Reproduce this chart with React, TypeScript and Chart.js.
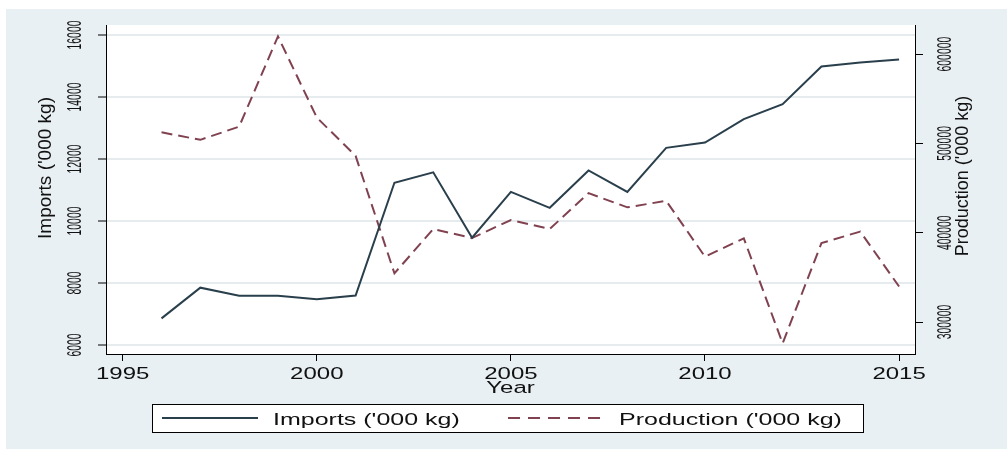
import { useEffect, useRef } from "react";
import { Chart, registerables } from "chart.js";

Chart.register(...registerables);

// Annual series, 1996–2015
const years = [
  1996, 1997, 1998, 1999, 2000, 2001, 2002, 2003, 2004, 2005,
  2006, 2007, 2008, 2009, 2010, 2011, 2012, 2013, 2014, 2015,
];
const imports = [
  6860, 7850, 7590, 7590, 7475, 7595, 11235, 11570, 9460, 10940,
  10425, 11630, 10940, 12360, 12530, 13285, 13770, 14985, 15115, 15210,
];
const production = [
  512400, 504000, 518800, 619800, 529000, 486000, 354500, 404100, 394000, 414200,
  404100, 444300, 428400, 435700, 373100, 393700, 276100, 388300, 401300, 339700,
];

const yearTicks = [1995, 2000, 2005, 2010, 2015];
const importTicks = [6000, 8000, 10000, 12000, 14000, 16000];
const productionTicks = [300000, 400000, 500000, 600000];

const importsLabel = "Imports ('000 kg)";
const productionLabel = "Production ('000 kg)";
const xTitle = "Year";

const IMPORTS_COLOR = "#2a3f4c";
const PRODUCTION_COLOR = "#804250";
const FONT = '"Liberation Sans", Arial, Helvetica, sans-serif';
const TEXT_COLOR = "#111";

type TextOpts = { rotate?: boolean; sx?: number; sy?: number; align?: CanvasTextAlign };

function drawText(
  ctx: CanvasRenderingContext2D,
  text: string,
  x: number,
  y: number,
  size: number,
  opts: TextOpts = {}
) {
  ctx.save();
  ctx.translate(x, y);
  if (opts.rotate) ctx.rotate(-Math.PI / 2);
  ctx.scale(opts.sx ?? 1, opts.sy ?? 1);
  ctx.font = `${size}px ${FONT}`;
  ctx.textAlign = opts.align ?? "center";
  ctx.textBaseline = "alphabetic";
  ctx.fillStyle = TEXT_COLOR;
  ctx.fillText(text, 0, 0);
  ctx.restore();
}

// Paints the page and plot backgrounds behind everything
const backdropPlugin = {
  id: "backdrop",
  beforeDraw(chart: any) {
    const { ctx, width, height, chartArea } = chart;
    ctx.save();
    ctx.fillStyle = "#ffffff";
    ctx.fillRect(0, 0, width, height);
    ctx.fillStyle = "#e9f0f3";
    ctx.fillRect(6, 9, width - 6, height - 9);
    ctx.fillStyle = "#ffffff";
    ctx.fillRect(
      chartArea.left,
      chartArea.top,
      chartArea.right - chartArea.left,
      chartArea.bottom - chartArea.top
    );
    ctx.restore();
  },
};

// Tick labels, axis titles and the boxed legend
const labelsPlugin = {
  id: "axisLabels",
  afterDraw(chart: any) {
    const { ctx, chartArea } = chart;
    const xs = chart.scales.x;
    const yl = chart.scales.y;
    const yr = chart.scales.y1;

    for (const v of yearTicks) {
      drawText(ctx, String(v), xs.getPixelForValue(v), 379, 24, { sy: 0.67 });
    }
    drawText(ctx, xTitle, (chartArea.left + chartArea.right) / 2, 393, 24, { sy: 0.66 });

    for (const v of importTicks) {
      drawText(ctx, String(v), 81, yl.getPixelForValue(v), 20, { rotate: true, sx: 0.52 });
    }
    drawText(ctx, importsLabel, 51, 168, 19, { rotate: true });

    for (const v of productionTicks) {
      drawText(ctx, String(v), 951, yr.getPixelForValue(v), 20, { rotate: true, sx: 0.52 });
    }
    drawText(ctx, productionLabel, 968, 176, 18, { rotate: true });

    // legend
    ctx.save();
    ctx.fillStyle = "#ffffff";
    ctx.fillRect(152.5, 404.5, 711, 28);
    ctx.strokeStyle = "#000";
    ctx.lineWidth = 1;
    ctx.strokeRect(152.5, 404.5, 711, 28);

    ctx.lineWidth = 2;
    ctx.strokeStyle = IMPORTS_COLOR;
    ctx.beginPath();
    ctx.moveTo(162, 418);
    ctx.lineTo(258, 418);
    ctx.stroke();

    ctx.strokeStyle = PRODUCTION_COLOR;
    ctx.setLineDash([12, 8]);
    ctx.beginPath();
    ctx.moveTo(508, 418);
    ctx.lineTo(605, 418);
    ctx.stroke();
    ctx.restore();

    drawText(ctx, importsLabel, 273, 425, 25, { sy: 0.64, align: "left" });
    drawText(ctx, productionLabel, 619, 425, 25, { sy: 0.64, align: "left" });
  },
};

export default function App() {
  const canvasRef = useRef<HTMLCanvasElement>(null);

  useEffect(() => {
    const canvas = canvasRef.current;
    if (!canvas) return;

    const chart = new Chart(canvas, {
      type: "line",
      data: {
        datasets: [
          {
            label: importsLabel,
            data: years.map((yr, i) => ({ x: yr, y: imports[i] })),
            borderColor: IMPORTS_COLOR,
            borderWidth: 2,
            pointRadius: 0,
            tension: 0,
            yAxisID: "y",
          },
          {
            label: productionLabel,
            data: years.map((yr, i) => ({ x: yr, y: production[i] })),
            borderColor: PRODUCTION_COLOR,
            borderWidth: 2,
            borderDash: [11, 6],
            pointRadius: 0,
            tension: 0,
            yAxisID: "y1",
          },
        ],
      },
      options: {
        animation: false,
        responsive: false,
        devicePixelRatio: 1,
        layout: { padding: { top: 25, left: 0, right: 0, bottom: 0 } },
        plugins: {
          legend: { display: false },
          tooltip: { enabled: false },
        },
        scales: {
          x: {
            type: "linear",
            min: 1994.57,
            max: 2015.41,
            afterBuildTicks: (s: any) => {
              s.ticks = yearTicks.map((v) => ({ value: v }));
            },
            afterFit: (s: any) => {
              s.height = 95;
            },
            ticks: { display: false },
            grid: {
              drawOnChartArea: false,
              drawTicks: true,
              tickLength: 7,
              tickColor: "#000",
              tickWidth: 1,
            },
            border: { display: true, color: "#000", width: 1 },
          },
          y: {
            type: "linear",
            position: "left",
            min: 5710,
            max: 16323,
            afterBuildTicks: (s: any) => {
              s.ticks = importTicks.map((v) => ({ value: v }));
            },
            afterFit: (s: any) => {
              s.width = 106;
            },
            ticks: { display: false },
            grid: {
              color: "#e6ebee",
              lineWidth: 2,
              drawTicks: true,
              tickLength: 8,
              tickColor: "#000",
              tickWidth: 1,
            },
            border: { display: true, color: "#000", width: 1 },
          },
          y1: {
            type: "linear",
            position: "right",
            min: 264166,
            max: 632587,
            afterBuildTicks: (s: any) => {
              s.ticks = productionTicks.map((v) => ({ value: v }));
            },
            afterFit: (s: any) => {
              s.width = 92;
            },
            ticks: { display: false },
            grid: {
              drawOnChartArea: false,
              drawTicks: true,
              tickLength: 8,
              tickColor: "#000",
              tickWidth: 1,
            },
            border: { display: true, color: "#000", width: 1 },
          },
        },
      },
      plugins: [backdropPlugin, labelsPlugin],
    });

    return () => chart.destroy();
  }, []);

  return (
    <div style={{ position: "absolute", left: 0, top: 0, width: 1007, height: 449 }}>
      <canvas
        ref={canvasRef}
        width={1007}
        height={449}
        style={{ display: "block", width: 1007, height: 449 }}
      />
    </div>
  );
}
